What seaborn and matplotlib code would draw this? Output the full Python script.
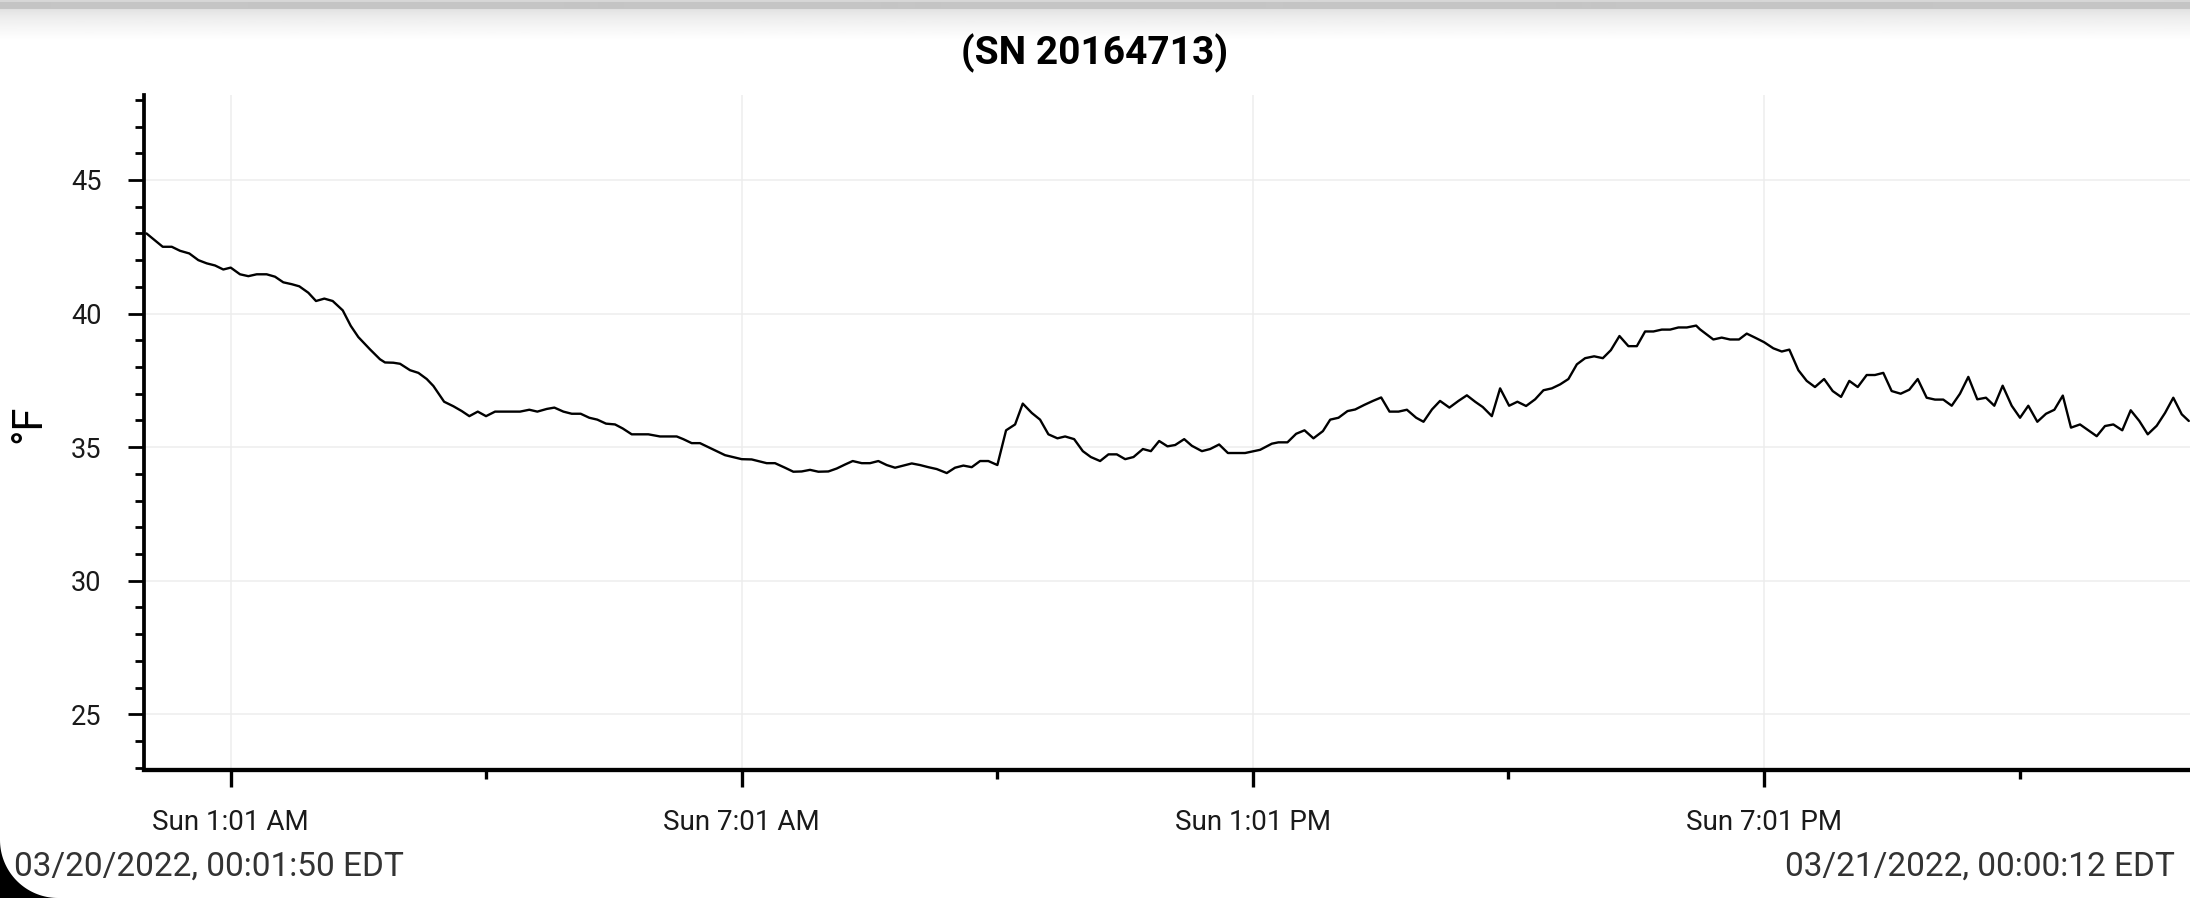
import numpy as np
import pandas as pd
import matplotlib
matplotlib.use("Agg")
import matplotlib.pyplot as plt
import seaborn as sns
from matplotlib.patches import Polygon
from matplotlib.ticker import FixedLocator, MultipleLocator

# ---------------- data ----------------
hours = [
    0.030, 0.221, 0.327, 0.424, 0.533, 0.639, 0.737, 0.835, 0.932, 1.019,
    1.128, 1.226, 1.324, 1.441, 1.539, 1.636, 1.735, 1.824, 1.930, 2.020,
    2.118, 2.216, 2.334, 2.428, 2.517, 2.654, 2.771, 2.830, 2.928, 3.007,
    3.124, 3.222, 3.320, 3.398, 3.524, 3.633, 3.731, 3.820, 3.919, 4.016,
    4.122, 4.415, 4.524, 4.618, 4.729, 4.818, 4.924, 5.022, 5.127, 5.228,
    5.322, 5.424, 5.530, 5.620, 5.726, 5.921, 6.058,
    6.254, 6.331, 6.430, 6.527, 6.684, 6.821, 7.017, 7.134, 7.310, 7.408,
    7.525, 7.623, 7.721, 7.819, 7.917, 8.034, 8.132, 8.230, 8.320, 8.426,
    8.523, 8.621, 8.719, 8.817, 8.915, 9.013, 9.110,
    9.208, 9.306, 9.424, 9.521, 9.619, 9.717, 9.815, 9.912, 10.018, 10.120,
    10.226, 10.316, 10.422, 10.519, 10.617, 10.723, 10.813, 10.919, 11.021, 11.115,
    11.224, 11.322, 11.420, 11.518, 11.616, 11.726, 11.820, 11.917, 12.015, 12.105,
    12.164,
    12.211, 12.301, 12.419, 12.516, 12.621, 12.724, 12.926, 13.102, 13.240, 13.317,
    13.423, 13.525, 13.623, 13.728, 13.839, 13.925, 14.022, 14.128, 14.218, 14.324,
    14.426, 14.523, 14.621, 14.727, 14.825, 14.934, 15.020, 15.119, 15.214,
    15.324, 15.430, 15.529, 15.626, 15.716, 15.822, 15.919, 16.025, 16.122, 16.224,
    16.330, 16.428, 16.526, 16.624, 16.721, 16.820, 16.917, 17.023, 17.125, 17.219,
    17.320, 17.425, 17.524, 17.621, 17.719, 17.817, 17.915, 18.012, 18.111, 18.220,
    18.265, 18.422, 18.520, 18.618, 18.723, 18.814, 18.911, 19.017, 19.126, 19.225,
    19.314, 19.420, 19.518, 19.615, 19.722, 19.823, 19.921, 20.018, 20.117, 20.222,
    20.319, 20.417, 20.515, 20.621, 20.722, 20.821, 20.926, 21.024, 21.121, 21.220,
    21.317,
    21.415, 21.520, 21.622, 21.720, 21.818, 21.924, 22.022, 22.119, 22.225, 22.327,
    22.425, 22.524, 22.620, 22.726, 22.824, 22.922, 23.019, 23.117, 23.222, 23.321,
    23.422, 23.521, 23.626, 23.724, 23.821, 23.920, 24.003,
]
temps_f = [
    43.00, 42.50, 42.50, 42.35, 42.25, 42.00, 41.88, 41.80, 41.65, 41.72,
    41.47, 41.40, 41.47, 41.47, 41.38, 41.17, 41.10, 41.02, 40.78, 40.47,
    40.56, 40.47, 40.12, 39.54, 39.12, 38.66, 38.29, 38.17, 38.16, 38.12,
    37.88, 37.78, 37.55, 37.29, 36.70, 36.53, 36.35, 36.16, 36.33, 36.16,
    36.33, 36.33, 36.40, 36.33, 36.43, 36.48, 36.33, 36.25, 36.25, 36.10,
    36.03, 35.88, 35.85, 35.70, 35.48, 35.48, 35.40,
    35.40, 35.30, 35.15, 35.15, 34.91, 34.70, 34.55, 34.54, 34.40, 34.40,
    34.23, 34.08, 34.09, 34.15, 34.08, 34.09, 34.20, 34.35, 34.48, 34.40,
    34.40, 34.48, 34.33, 34.23, 34.31, 34.39, 34.33,
    34.25, 34.18, 34.03, 34.23, 34.31, 34.25, 34.48, 34.48, 34.33, 35.63,
    35.85, 36.63, 36.28, 36.03, 35.48, 35.33, 35.40, 35.30, 34.85, 34.63,
    34.48, 34.73, 34.73, 34.55, 34.63, 34.93, 34.85, 35.23, 35.03, 35.08,
    35.20,
    35.30, 35.05, 34.85, 34.93, 35.10, 34.78, 34.78, 34.90, 35.13, 35.18,
    35.18, 35.50, 35.63, 35.33, 35.60, 36.03, 36.10, 36.35, 36.41, 36.58,
    36.73, 36.86, 36.33, 36.33, 36.40, 36.10, 35.95, 36.41, 36.73,
    36.48, 36.73, 36.94, 36.70, 36.50, 36.16, 37.20, 36.55, 36.70, 36.54,
    36.79, 37.13, 37.20, 37.35, 37.55, 38.10, 38.33, 38.40, 38.33, 38.63,
    39.16, 38.78, 38.78, 39.33, 39.33, 39.40, 39.40, 39.48, 39.48, 39.55,
    39.41, 39.03, 39.10, 39.03, 39.03, 39.25, 39.10, 38.93, 38.70, 38.58,
    38.65, 37.88, 37.48, 37.25, 37.55, 37.10, 36.88, 37.48, 37.25, 37.70,
    37.70, 37.78, 37.10, 37.00, 37.15, 37.55, 36.85, 36.78, 36.78, 36.55,
    37.00,
    37.63, 36.79, 36.85, 36.55, 37.30, 36.55, 36.10, 36.55, 35.95, 36.25,
    36.40, 36.93, 35.73, 35.85, 35.63, 35.41, 35.79, 35.85, 35.63, 36.38,
    35.98, 35.48, 35.80, 36.28, 36.85, 36.23, 35.98,
]
title_text = "(SN 20164713)"
y_label = "°F"
x_tick_hours = [1.0167, 7.0167, 13.0167, 19.0167]
x_tick_labels = ["Sun 1:01 AM", "Sun 7:01 AM", "Sun 1:01 PM", "Sun 7:01 PM"]
x_minor_hours = [4.0167, 10.0167, 16.0167, 22.0167]
y_major_ticks = [25, 30, 35, 40, 45]
start_label = "03/20/2022, 00:01:50 EDT"
end_label = "03/21/2022, 00:00:12 EDT"

# ---------------- figure ----------------
sns.set_theme(style="white")
plt.rcParams['font.family'] = ['Roboto', 'DejaVu Sans']

W, H = 2190, 898
fig = plt.figure(figsize=(W / 100, H / 100), dpi=100)
fig.patch.set_facecolor("white")

left_px, right_px, top_px, bottom_px = 143.9, 2190, 94.5, 769.6
ax = fig.add_axes([left_px / W, 1 - bottom_px / H,
                   (right_px - left_px) / W, (bottom_px - top_px) / H])

df = pd.DataFrame({"hours": hours, "temp": temps_f})
sns.lineplot(data=df, x="hours", y="temp", ax=ax, color="black",
             linewidth=1.7, estimator=None, sort=True)

ax.set_xlim(0.0, 24.017)
ax.set_ylim(22.93, 48.2)
ax.set_xlabel("")
ax.set_ylabel("")

for s in ["top", "right"]:
    ax.spines[s].set_visible(False)
ax.spines["left"].set_linewidth(2.7)
ax.spines["left"].set_color("black")
ax.spines["bottom"].set_linewidth(3.1)
ax.spines["bottom"].set_color("black")

ax.xaxis.set_major_locator(FixedLocator(x_tick_hours))
ax.set_xticklabels(x_tick_labels)
ax.xaxis.set_minor_locator(FixedLocator(x_minor_hours))
ax.yaxis.set_major_locator(FixedLocator(y_major_ticks))
ax.yaxis.set_minor_locator(MultipleLocator(1))

ax.tick_params(axis="y", which="major", left=True, length=11.5, width=2.0,
               direction="out", pad=19, labelsize=19.5, labelcolor="#1a1a1a",
               color="black")
ax.tick_params(axis="y", which="minor", left=True, length=6.7, width=2.0,
               direction="out", color="black")
ax.tick_params(axis="x", which="major", bottom=True, length=12.5, width=2.4,
               direction="out", pad=16, labelsize=20, labelcolor="#1a1a1a",
               color="black")
ax.tick_params(axis="x", which="minor", bottom=True, length=6.5, width=2.4,
               direction="out", color="black")

ax.grid(True, which="major", color="#ededed", linewidth=1.1)
ax.set_axisbelow(True)

# title and labels
fig.text(0.5, 1 - 53 / H, title_text, ha="center", va="center",
         fontsize=28, fontweight="bold", color="black")
fig.text(29 / W, 1 - 424 / H, y_label, ha="center", va="center",
         rotation=90, fontsize=30, color="black")
fig.text(14 / W, 1 - 867 / H, start_label, ha="left", va="center",
         fontsize=24, color="#333333")
fig.text(2175 / W, 1 - 867 / H, end_label, ha="right", va="center",
         fontsize=24, color="#333333")

# top shadow band (screenshot chrome)
gh = 40
rows = np.arange(gh)
grad = np.where(rows < 2, 0.84, np.where(rows < 9, 0.77,
                0.88 + 0.12 * ((rows - 9) / (gh - 9)) ** 0.7))
gax = fig.add_axes([0, 1 - gh / H, 1, gh / H])
gax.imshow(grad[:, None], aspect="auto", cmap="gray", vmin=0, vmax=1,
           interpolation="bilinear")
gax.axis("off")

# rounded screen corner bottom-left
r = 58
th = np.linspace(-np.pi / 2, -np.pi, 40)
pts = [(0, 0)] + [(r + r * np.cos(t), r + r * np.sin(t)) for t in th]
corner = Polygon(np.array(pts) / 100.0, closed=True, facecolor="black",
                 edgecolor="none", transform=fig.dpi_scale_trans)
fig.patches.append(corner)

fig.savefig("out.png", dpi=100, facecolor="white")
